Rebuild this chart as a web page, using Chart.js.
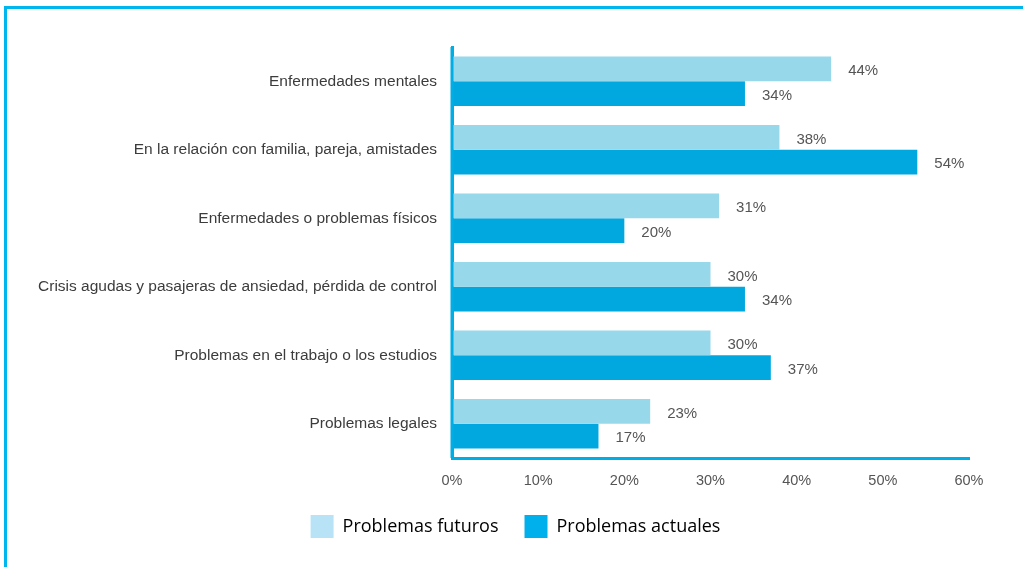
<!DOCTYPE html>
<html>
<head>
<meta charset="utf-8">
<script src="https://cdn.jsdelivr.net/npm/chart.js@4.4.1/dist/chart.umd.min.js"></script>
<style>
  html, body { margin: 0; padding: 0; background: #fff; }
  body { width: 1023px; height: 567px; overflow: hidden; position: relative; }
  #frame { position: absolute; left: 4px; top: 6px; width: 1030px; height: 600px;
           border-left: 3px solid #00b6ee; border-top: 3px solid #00b6ee; box-sizing: border-box; }
  #wrap { position: absolute; left: 0; top: 0; width: 1023px; height: 567px; }
</style>
</head>
<body>
<div id="frame"></div>
<div id="wrap"><canvas id="c" width="1023" height="567"></canvas></div>
<script>
const categories = [
  "Enfermedades mentales",
  "En la relación con familia, pareja, amistades",
  "Enfermedades o problemas físicos",
  "Crisis agudas y pasajeras de ansiedad, pérdida de control",
  "Problemas en el trabajo o los estudios",
  "Problemas legales"
];
const futuros = [44, 38, 31, 30, 30, 23];
const actuales = [34, 54, 20, 34, 37, 17];
const xTicks = [0, 10, 20, 30, 40, 50, 60];
const seriesNames = ["Problemas futuros", "Problemas actuales"];

const barColors = ["#97d8ea", "#00a8df"];
const legendColors = ["#b8e3f7", "#00b0ec"];
const axisColor = "#00aee6";

const legendShift = {
  id: "legendShift",
  afterLayout(chart) {
    const lg = chart.legend;
    if (lg) {
      lg.left = 8;
      lg.right = 1023;
      lg.width = lg.right - lg.left;
    }
  }
};

const valueLabels = {
  id: "valueLabels",
  afterDatasetsDraw(chart) {
    const ctx = chart.ctx;
    ctx.save();
    const a = chart.chartArea;
    ctx.strokeStyle = axisColor;
    ctx.lineWidth = 3;
    ctx.beginPath();
    ctx.moveTo(a.left, a.top);
    ctx.lineTo(a.left, a.bottom);
    ctx.stroke();
    ctx.font = "15px 'Liberation Sans', Arial, sans-serif";
    ctx.fillStyle = "#555555";
    ctx.textAlign = "left";
    ctx.textBaseline = "middle";
    chart.data.datasets.forEach((ds, di) => {
      chart.getDatasetMeta(di).data.forEach((bar, i) => {
        ctx.fillText(ds.data[i] + "%", bar.x + 17, bar.y + 2);
      });
    });
    ctx.restore();
  }
};

new Chart(document.getElementById("c"), {
  type: "bar",
  data: {
    labels: categories,
    datasets: [
      { label: seriesNames[0], data: futuros, backgroundColor: barColors[0], borderWidth: 0,
        barPercentage: 1.0, categoryPercentage: 0.72 },
      { label: seriesNames[1], data: actuales, backgroundColor: barColors[1], borderWidth: 0,
        barPercentage: 1.0, categoryPercentage: 0.72 }
    ]
  },
  options: {
    indexAxis: "y",
    responsive: false,
    animation: false,
    events: [],
    layout: { padding: { left: 0, right: 54, top: 47, bottom: 19 } },
    scales: {
      x: {
        min: 0, max: 60,
        afterBuildTicks(scale) { scale.ticks = xTicks.map(v => ({ value: v })); },
        grid: { display: false, drawTicks: false },
        border: { display: true, color: axisColor, width: 3 },
        ticks: {
          padding: 14,
          color: "#555555",
          font: { family: "'Liberation Sans', Arial, sans-serif", size: 14.5 },
          callback: v => v + "%"
        },
        afterFit(scale) { scale.height = 31; }
      },
      y: {
        grid: { display: false, drawTicks: false },
        border: { display: true, color: axisColor, width: 3 },
        ticks: {
          padding: 15,
          color: "#3c3c3c",
          font: { family: "'Liberation Sans', Arial, sans-serif", size: 15.5 }
        },
        afterFit(scale) { scale.width = 452; }
      }
    },
    plugins: {
      tooltip: { enabled: false },
      legend: {
        position: "bottom",
        labels: {
          boxWidth: 23,
          boxHeight: 23,
          padding: 26,
          color: "#2e2e3c",
          font: { family: "'Open Sans', sans-serif", size: 18 },
          generateLabels(chart) {
            return chart.data.datasets.map((ds, i) => ({
              text: ds.label,
              fillStyle: legendColors[i],
              strokeStyle: legendColors[i],
              lineWidth: 0,
              hidden: false,
              datasetIndex: i
            }));
          }
        }
      }
    }
  },
  plugins: [legendShift, valueLabels]
});
</script>
</body>
</html>
